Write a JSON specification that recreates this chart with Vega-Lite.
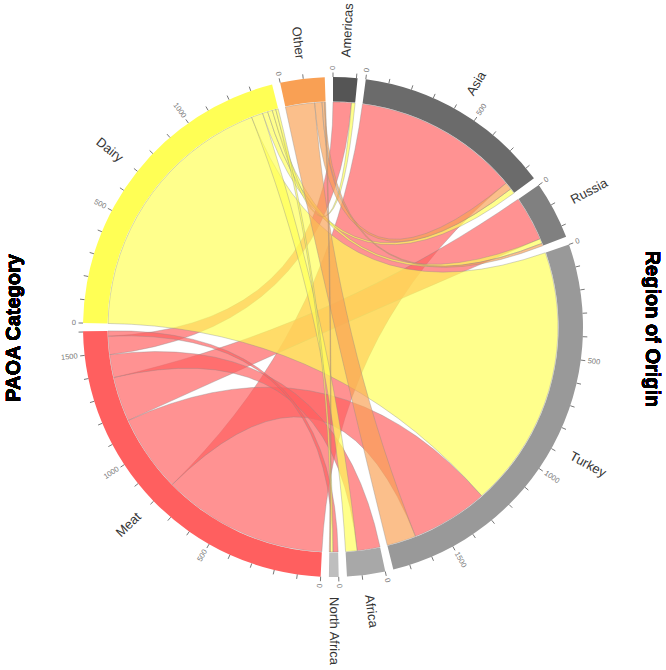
{
  "$schema": "https://vega.github.io/schema/vega-lite/v6.json",
  "width": 666,
  "height": 670,
  "autosize": "none",
  "padding": 0,
  "config": {"view": {"stroke": null}, "font": "Liberation Sans"},
  "data": {
    "values": [
      {"cat": "Meat", "region": "Asia", "value": 795},
      {"cat": "Meat", "region": "Turkey", "value": 370},
      {"cat": "Meat", "region": "Russia", "value": 215},
      {"cat": "Meat", "region": "Africa", "value": 110},
      {"cat": "Meat", "region": "Americas", "value": 88},
      {"cat": "Meat", "region": "North Africa", "value": 25},
      {"cat": "Dairy", "region": "Turkey", "value": 1263},
      {"cat": "Dairy", "region": "Africa", "value": 55},
      {"cat": "Dairy", "region": "Asia", "value": 25},
      {"cat": "Dairy", "region": "Russia", "value": 23},
      {"cat": "Dairy", "region": "Americas", "value": 17},
      {"cat": "Dairy", "region": "North Africa", "value": 12},
      {"cat": "Other", "region": "Turkey", "value": 140},
      {"cat": "Other", "region": "Asia", "value": 35},
      {"cat": "Other", "region": "Russia", "value": 12},
      {"cat": "Other", "region": "North Africa", "value": 5}
    ]
  },
  "transform": [
    {"joinaggregate": [{"op": "sum", "field": "value", "as": "T"}]},
    {"joinaggregate": [{"op": "sum", "field": "value", "as": "catTot"}], "groupby": ["cat"]},
    {"joinaggregate": [{"op": "sum", "field": "value", "as": "regTot"}], "groupby": ["region"]},
    {"calculate": "indexof(['Americas','Asia','Russia','Turkey','Africa','North Africa'], datum.region)", "as": "ri"},
    {"calculate": "indexof(['Meat','Dairy','Other'], datum.cat)", "as": "ci"},
    {"window": [{"op": "sum", "field": "value", "as": "regCum"}], "sort": [{"field": "ri"}], "frame": [null, 0]},
    {"window": [{"op": "sum", "field": "value", "as": "catCum"}], "sort": [{"field": "ci"}], "frame": [null, 0]},
    {"window": [{"op": "sum", "field": "value", "as": "srcCum"}], "groupby": ["cat"], "sort": [{"field": "value", "order": "descending"}], "frame": [null, 0], "ignorePeers": true},
    {"window": [{"op": "sum", "field": "value", "as": "tgtCum"}], "groupby": ["region"], "sort": [{"field": "value", "order": "descending"}], "frame": [null, 0], "ignorePeers": true},
    {"calculate": "(2*PI-9*0.033)/(2*datum.T)", "as": "k"},
    {"calculate": "(6+datum.ci)*0.033+(datum.T+datum.catCum-datum.catTot+datum.srcCum-datum.value)*datum.k", "as": "s0"},
    {"calculate": "datum.s0+datum.value*datum.k", "as": "s1"},
    {"calculate": "datum.ri*0.033+(datum.regCum-datum.regTot+datum.tgtCum-datum.value)*datum.k", "as": "t0"},
    {"calculate": "datum.t0+datum.value*datum.k", "as": "t1"}
  ],
  "layer": [
    {
      "transform": [
        {"calculate": "[0,1,2,3,4,5,6,7,8,9,10,11,12,13,14,15,16,17,18,19,20,21,22,23,24,25,26,27,28,29,30,31,32,33,34,35,36,37,38,39,40,41,42,43,44,45,46,47,48,49,50,51,52,53,54,55,56,57,58,59,60,61,62,63,64,65,66,67,68,69,70,71,72,73,74,75,76,77,78,79]", "as": "pts"},
        {"flatten": ["pts"], "as": ["i"]},
        {"calculate": "floor(datum.i/20)", "as": "seg"},
        {"calculate": "(datum.i%20)/19", "as": "u"},
        {"calculate": "datum.seg==0 ? 225*sin(datum.s0+(datum.s1-datum.s0)*datum.u) : datum.seg==1 ? 225*((1-datum.u)*(1-datum.u)*sin(datum.s1)+datum.u*datum.u*sin(datum.t0)) : datum.seg==2 ? 225*sin(datum.t0+(datum.t1-datum.t0)*datum.u) : 225*((1-datum.u)*(1-datum.u)*sin(datum.t1)+datum.u*datum.u*sin(datum.s0))", "as": "px"},
        {"calculate": "datum.seg==0 ? 225*cos(datum.s0+(datum.s1-datum.s0)*datum.u) : datum.seg==1 ? 225*((1-datum.u)*(1-datum.u)*cos(datum.s1)+datum.u*datum.u*cos(datum.t0)) : datum.seg==2 ? 225*cos(datum.t0+(datum.t1-datum.t0)*datum.u) : 225*((1-datum.u)*(1-datum.u)*cos(datum.t1)+datum.u*datum.u*cos(datum.s0))", "as": "py"}
      ],
      "mark": {"type": "line", "interpolate": "linear-closed", "stroke": "#8a8a8a", "strokeWidth": 0.6, "strokeOpacity": 0.6, "fillOpacity": 0.68},
      "encoding": {
        "x": {"field": "px", "type": "quantitative", "scale": {"domain": [-333, 333], "nice": false, "zero": false}, "axis": null},
        "y": {"field": "py", "type": "quantitative", "scale": {"domain": [-343, 327], "nice": false, "zero": false}, "axis": null},
        "order": {"field": "i", "type": "quantitative"},
        "detail": {"field": "region", "type": "nominal"},
        "fill": {"field": "cat", "type": "nominal", "legend": null, "scale": {"domain": ["Americas", "Asia", "Russia", "Turkey", "Africa", "North Africa", "Meat", "Dairy", "Other"], "range": ["#555555", "#6b6b6b", "#808080", "#999999", "#a8a8a8", "#bebebe", "#ff5f5f", "#ffff55", "#f9a054"]}}
      }
    },
    {
      "transform": [
        {"calculate": "[0,1]", "as": "sides"},
        {"flatten": ["sides"], "as": ["side"]},
        {"calculate": "datum.side==0 ? datum.region : datum.cat", "as": "sector"},
        {"calculate": "datum.side==0 ? datum.t0 : datum.s0", "as": "b0"},
        {"calculate": "datum.side==0 ? datum.t1 : datum.s1", "as": "b1"},
        {"aggregate": [
          {"op": "min", "field": "b0", "as": "a0"},
          {"op": "max", "field": "b1", "as": "a1"},
          {"op": "sum", "field": "value", "as": "tot"},
          {"op": "max", "field": "k", "as": "k"}
        ], "groupby": ["sector"]}
      ],
      "layer": [
        {
          "mark": {"type": "arc", "radius": 250, "radius2": 225.5},
          "encoding": {
            "x": {"datum": 0, "type": "quantitative", "scale": {"domain": [-333, 333], "nice": false, "zero": false}, "axis": null},
            "y": {"datum": 0, "type": "quantitative", "scale": {"domain": [-343, 327], "nice": false, "zero": false}, "axis": null},
            "theta": {"field": "a0", "type": "quantitative", "scale": null, "stack": null},
            "theta2": {"field": "a1"},
            "fill": {"field": "sector", "type": "nominal", "legend": null, "scale": {"domain": ["Americas", "Asia", "Russia", "Turkey", "Africa", "North Africa", "Meat", "Dairy", "Other"], "range": ["#555555", "#6b6b6b", "#808080", "#999999", "#a8a8a8", "#bebebe", "#ff5f5f", "#ffff55", "#f9a054"]}}
          }
        },
        {
          "transform": [
            {"calculate": "[0,1,2,3,4,5,6,7,8,9,10,11,12,13,14,15,16,17]", "as": "tks"},
            {"flatten": ["tks"], "as": ["tk"]},
            {"filter": "datum.tk*100 <= datum.tot"},
            {"calculate": "datum.a0+datum.tk*100*datum.k", "as": "th"},
            {"calculate": "datum.th*180/PI", "as": "deg"},
            {"calculate": "datum.deg<=180 ? datum.deg-90 : datum.deg-270", "as": "rot"},
            {"calculate": "250*sin(datum.th)", "as": "xa"},
            {"calculate": "250*cos(datum.th)", "as": "ya"},
            {"calculate": "254.5*sin(datum.th)", "as": "xb"},
            {"calculate": "254.5*cos(datum.th)", "as": "yb"},
            {"calculate": "257*sin(datum.th)", "as": "xl"},
            {"calculate": "257*cos(datum.th)", "as": "yl"},
            {"calculate": "toString(datum.tk*100)", "as": "lab"}
          ],
          "layer": [
            {
              "mark": {"type": "rule", "stroke": "#555555", "strokeWidth": 0.8},
              "encoding": {
                "x": {"field": "xa", "type": "quantitative", "scale": {"domain": [-333, 333], "nice": false, "zero": false}, "axis": null},
                "y": {"field": "ya", "type": "quantitative", "scale": {"domain": [-343, 327], "nice": false, "zero": false}, "axis": null},
                "x2": {"field": "xb"},
                "y2": {"field": "yb"}
              }
            },
            {
              "transform": [{"filter": "datum.tk%5==0 && datum.deg<=180"}],
              "mark": {"type": "text", "align": "left", "baseline": "middle", "fontSize": 7.5, "fill": "#777777"},
              "encoding": {
                "x": {"field": "xl", "type": "quantitative", "scale": {"domain": [-333, 333], "nice": false, "zero": false}, "axis": null},
                "y": {"field": "yl", "type": "quantitative", "scale": {"domain": [-343, 327], "nice": false, "zero": false}, "axis": null},
                "text": {"field": "lab", "type": "nominal"},
                "angle": {"field": "rot", "type": "quantitative", "scale": null}
              }
            },
            {
              "transform": [{"filter": "datum.tk%5==0 && datum.deg>180"}],
              "mark": {"type": "text", "align": "right", "baseline": "middle", "fontSize": 7.5, "fill": "#777777"},
              "encoding": {
                "x": {"field": "xl", "type": "quantitative", "scale": {"domain": [-333, 333], "nice": false, "zero": false}, "axis": null},
                "y": {"field": "yl", "type": "quantitative", "scale": {"domain": [-343, 327], "nice": false, "zero": false}, "axis": null},
                "text": {"field": "lab", "type": "nominal"},
                "angle": {"field": "rot", "type": "quantitative", "scale": null}
              }
            }
          ]
        },
        {
          "transform": [
            {"calculate": "(datum.a0+datum.a1)/2", "as": "th"},
            {"calculate": "datum.th*180/PI", "as": "deg"},
            {"calculate": "datum.deg<=180 ? datum.deg-90 : datum.deg-270", "as": "rot"},
            {"calculate": "270*sin(datum.th)", "as": "xn"},
            {"calculate": "270*cos(datum.th)", "as": "yn"}
          ],
          "layer": [
            {
              "transform": [{"filter": "datum.deg<=180"}],
              "mark": {"type": "text", "align": "left", "baseline": "middle", "fontSize": 13, "fill": "#333333"},
              "encoding": {
                "x": {"field": "xn", "type": "quantitative", "scale": {"domain": [-333, 333], "nice": false, "zero": false}, "axis": null},
                "y": {"field": "yn", "type": "quantitative", "scale": {"domain": [-343, 327], "nice": false, "zero": false}, "axis": null},
                "text": {"field": "sector", "type": "nominal"},
                "angle": {"field": "rot", "type": "quantitative", "scale": null}
              }
            },
            {
              "transform": [{"filter": "datum.deg>180"}],
              "mark": {"type": "text", "align": "right", "baseline": "middle", "fontSize": 13, "fill": "#333333"},
              "encoding": {
                "x": {"field": "xn", "type": "quantitative", "scale": {"domain": [-333, 333], "nice": false, "zero": false}, "axis": null},
                "y": {"field": "yn", "type": "quantitative", "scale": {"domain": [-343, 327], "nice": false, "zero": false}, "axis": null},
                "text": {"field": "sector", "type": "nominal"},
                "angle": {"field": "rot", "type": "quantitative", "scale": null}
              }
            }
          ]
        }
      ]
    },
    {
      "mark": {"type": "text", "text": "PAOA Category", "angle": 270, "align": "center", "baseline": "middle", "fontSize": 20, "fontWeight": "bold", "fill": "#000000"},
      "encoding": {
        "x": {"datum": -319, "type": "quantitative", "scale": {"domain": [-333, 333], "nice": false, "zero": false}, "axis": null},
        "y": {"datum": -1, "type": "quantitative", "scale": {"domain": [-343, 327], "nice": false, "zero": false}, "axis": null}
      }
    },
    {
      "mark": {"type": "text", "text": "Region of Origin", "angle": 90, "align": "center", "baseline": "middle", "fontSize": 20, "fontWeight": "bold", "fill": "#000000"},
      "encoding": {
        "x": {"datum": 319, "type": "quantitative", "scale": {"domain": [-333, 333], "nice": false, "zero": false}, "axis": null},
        "y": {"datum": -2, "type": "quantitative", "scale": {"domain": [-343, 327], "nice": false, "zero": false}, "axis": null}
      }
    }
  ]
}
